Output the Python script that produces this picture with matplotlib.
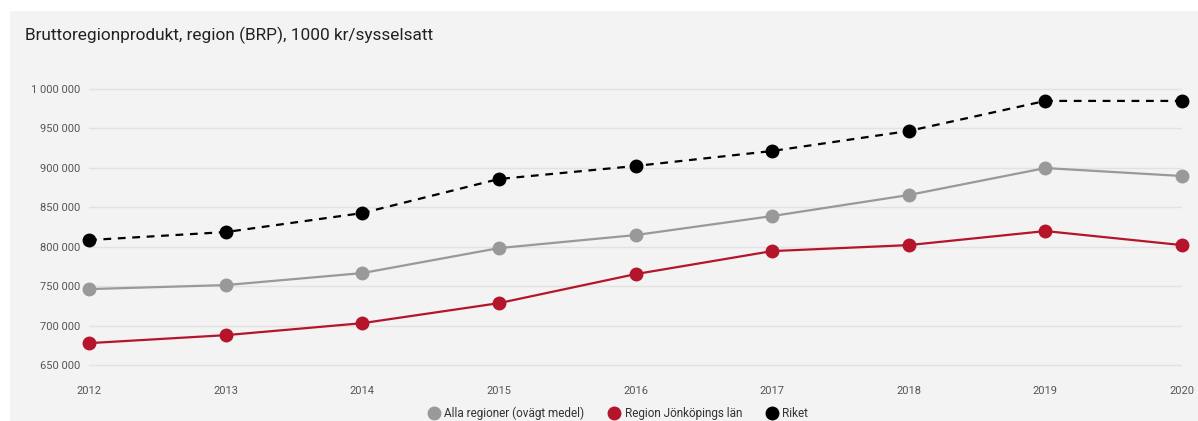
import matplotlib
matplotlib.use("Agg")
import matplotlib.pyplot as plt
from matplotlib.patches import Rectangle
from matplotlib.lines import Line2D
from matplotlib.ticker import FuncFormatter

years = [2012, 2013, 2014, 2015, 2016, 2017, 2018, 2019, 2020]
alla = [746200, 751300, 766500, 798200, 814700, 838800, 865500, 899700, 889600]
jonkoping = [677700, 687800, 703000, 728400, 765200, 794400, 802000, 819800, 802000]
riket = [808400, 818500, 842600, 885800, 902300, 921300, 946700, 984800, 984800]
yticks = [650000, 700000, 750000, 800000, 850000, 900000, 950000, 1000000]
series_names = ["Alla regioner (ovägt medel)", "Region Jönköpings län", "Riket"]
title = "Bruttoregionprodukt, region (BRP), 1000 kr/sysselsatt"

plt.rcParams['font.family'] = ['Roboto', 'DejaVu Sans']

W, H = 1198, 421
fig = plt.figure(figsize=(W / 100, H / 100), dpi=100)
fig.patch.set_facecolor('white')
fig.patches.append(Rectangle((10 / W, 0), 1 - 10 / W, 1 - 11 / H, transform=fig.transFigure,
                             facecolor='#f3f3f3', edgecolor='none', zorder=-5))

ax = fig.add_axes([89 / W, 1 - 378 / H, (1182 - 89) / W, (378 - 70) / H])
ax.set_zorder(2)
ax.set_facecolor('none')

c_gray = '#999999'
c_red = '#b5152b'
c_black = '#000000'

ax.plot(years, alla, color=c_gray, lw=1.6, marker='o', ms=9, clip_on=False, zorder=3)
ax.plot(years, jonkoping, color=c_red, lw=1.6, marker='o', ms=9, clip_on=False, zorder=3)
ax.plot(years, riket, color=c_black, lw=1.6, ls=(0, (3.5, 3)), marker='o', ms=9, clip_on=False, zorder=3)

ax.set_xlim(2012, 2020)
ax.set_ylim(633500, 1024000)
ax.set_yticks(yticks)
ax.set_xticks(years)
ax.yaxis.set_major_formatter(FuncFormatter(lambda v, p: f"{int(v):,}".replace(",", " ")))
ax.grid(axis='y', color='#e2e2e2', lw=1)
ax.set_axisbelow(True)
for s in ax.spines.values():
    s.set_visible(False)
ax.tick_params(axis='both', length=0, colors='#555555', labelsize=8)
ax.tick_params(axis='y', pad=6)
ax.tick_params(axis='x', pad=6)

fig.text(25 / W, 1 - 35 / H, title, fontsize=12.4, color='#222222', va='center', ha='left')

handles = [Line2D([], [], ls='none', marker='o', ms=9, color=c) for c in (c_gray, c_red, c_black)]
fig.legend(handles, series_names, loc='center', bbox_to_anchor=(618 / W, 1 - 413 / H), ncol=3,
           frameon=False, fontsize=8.5, handletextpad=0.4, columnspacing=2.0, handlelength=1,
           labelcolor='#333333', borderpad=0)

fig.savefig('out.png', dpi=100, facecolor=fig.get_facecolor())
